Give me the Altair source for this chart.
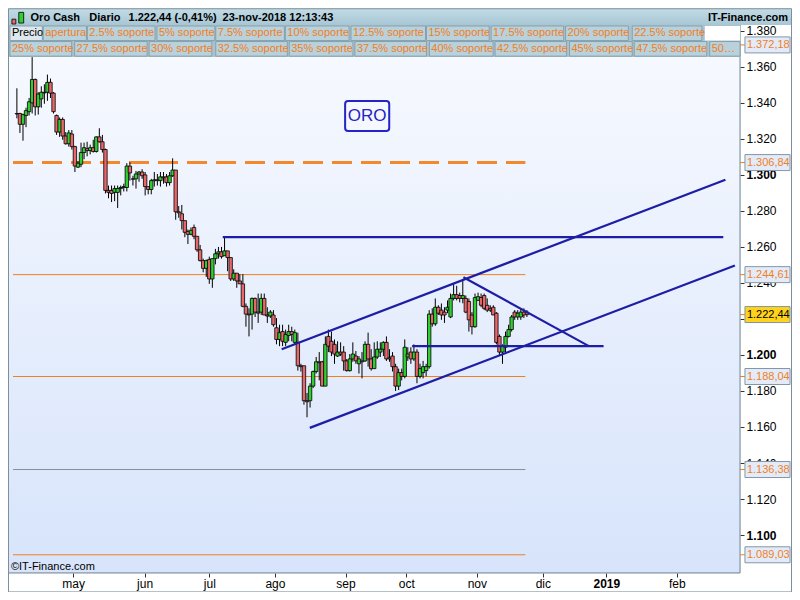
import altair as alt
import pandas as pd

# ---------------- data ----------------
opens = [1.3341,1.3341,1.3281,1.3330,1.3351,1.3400,1.3530,1.3378,1.3422,1.3459,
         1.3459,1.3514,1.3454,1.3330,1.3238,1.3308,1.3216,1.3173,1.3227,1.3157,
         1.3043,1.3059,1.3124,1.3146,1.3135,1.3151,1.3130,1.3211,1.3184,1.3141,
         1.2914,1.2914,1.2903,1.2903,1.2924,1.2930,1.2930,1.3049,1.2978,1.2978,
         1.3005,1.3016,1.3000,1.2935,1.2919,1.2968,1.2973,1.2968,1.2984,1.2989,
         1.2957,1.2995,1.3027,1.2795,1.2784,1.2746,1.2686,1.2670,1.2708,1.2659,
         1.2584,1.2524,1.2481,1.2530,1.2422,1.2535,1.2562,1.2573,1.2551,1.2578,
         1.2541,1.2422,1.2454,1.2411,1.2395,1.2270,1.2227,1.2227,1.2314,1.2238,
         1.2238,1.2314,1.2222,1.2216,1.2222,1.2151,1.2086,1.2130,1.2070,1.2108,
         1.2130,1.2070,1.2070,1.1940,1.1940,1.1746,1.1746,1.1827,1.1908,1.1962,
         1.1962,1.1827,1.2103,1.2076,1.2059,1.1994,1.2016,1.2016,1.1967,1.1913,
         1.1978,1.1994,1.1951,1.1967,1.1967,1.2059,1.1978,1.1924,1.1989,1.2016,
         1.2032,1.2070,1.1978,1.1994,1.1935,1.1827,1.1902,1.1881,1.1989,1.2016,
         1.1978,1.2016,1.1881,1.1902,1.1913,1.1935,1.2227,1.2173,1.2265,1.2249,
         1.2238,1.2249,1.2211,1.2314,1.2335,1.2330,1.2314,1.2314,1.2297,1.2222,
         1.2157,1.2303,1.2319,1.2330,1.2276,1.2259,1.2265,1.2232,1.2103,1.2016,
         1.2043,1.2103,1.2141,1.2238,1.2211,1.2211,1.2238,1.2238]
highs = [1.3481,1.3345,1.3340,1.3373,1.3427,1.3654,1.3535,1.3459,1.3492,1.3503,
         1.3557,1.3535,1.3460,1.3335,1.3319,1.3319,1.3238,1.3249,1.3249,1.3162,
         1.3076,1.3179,1.3179,1.3184,1.3168,1.3195,1.3214,1.3259,1.3222,1.3146,
         1.2941,1.2941,1.2941,1.2941,1.2941,1.2951,1.3065,1.3070,1.2995,1.3022,
         1.3022,1.3032,1.3016,1.2935,1.2978,1.3016,1.3005,1.3016,1.3016,1.3005,
         1.3016,1.3092,1.3027,1.2827,1.2833,1.2746,1.2697,1.2708,1.2724,1.2659,
         1.2611,1.2535,1.2530,1.2546,1.2535,1.2589,1.2600,1.2600,1.2654,1.2578,
         1.2541,1.2476,1.2454,1.2449,1.2449,1.2286,1.2259,1.2319,1.2319,1.2341,
         1.2341,1.2341,1.2265,1.2249,1.2249,1.2205,1.2168,1.2168,1.2141,1.2168,
         1.2157,1.2141,1.2124,1.1951,1.1940,1.1789,1.1843,1.1913,1.1989,1.2016,
         1.1967,1.2103,1.2141,1.2130,1.2086,1.2076,1.2070,1.2049,1.1978,1.2005,
         1.2070,1.2022,1.1994,1.2016,1.2076,1.2124,1.2032,1.2070,1.2076,1.2070,
         1.2076,1.2103,1.2032,1.2016,1.1951,1.1924,1.1924,1.2086,1.2043,1.2043,
         1.2059,1.2032,1.1951,1.1967,1.1951,1.2249,1.2259,1.2314,1.2276,1.2286,
         1.2265,1.2303,1.2341,1.2395,1.2384,1.2346,1.2422,1.2330,1.2314,1.2238,
         1.2341,1.2346,1.2341,1.2341,1.2314,1.2276,1.2276,1.2238,1.2114,1.2059,
         1.2130,1.2168,1.2222,1.2249,1.2249,1.2259,1.2259,1.2249]
lows = [1.3314,1.3233,1.3190,1.3265,1.3330,1.3341,1.3330,1.3335,1.3373,1.3395,
        1.3411,1.3427,1.3341,1.3222,1.3211,1.3195,1.3168,1.3157,1.3141,1.3016,
        1.3038,1.3043,1.3087,1.3103,1.3114,1.3124,1.3124,1.3179,1.3124,1.2897,
        1.2870,1.2849,1.2854,1.2816,1.2886,1.2908,1.2908,1.2968,1.2941,1.2924,
        1.2962,1.2978,1.2886,1.2892,1.2892,1.2935,1.2941,1.2935,1.2951,1.2935,
        1.2941,1.2989,1.2751,1.2762,1.2697,1.2654,1.2616,1.2665,1.2643,1.2573,
        1.2519,1.2459,1.2433,1.2395,1.2373,1.2503,1.2535,1.2535,1.2551,1.2465,
        1.2411,1.2411,1.2373,1.2395,1.2265,1.2157,1.2103,1.2141,1.2211,1.2178,
        1.2222,1.2222,1.2178,1.2205,1.2157,1.2059,1.2049,1.2049,1.2049,1.2076,
        1.2076,1.2059,1.1913,1.1908,1.1724,1.1654,1.1708,1.1816,1.1897,1.1859,
        1.1827,1.1827,1.2016,1.1994,1.1951,1.1989,1.1994,1.1913,1.1908,1.1908,
        1.1962,1.1951,1.1897,1.1870,1.1962,1.1935,1.1913,1.1924,1.1978,1.1989,
        1.1994,1.1967,1.1962,1.1908,1.1800,1.1805,1.1859,1.1870,1.1967,1.1951,
        1.1967,1.1843,1.1870,1.1870,1.1881,1.1924,1.2157,1.2162,1.2222,1.2195,
        1.2178,1.2232,1.2205,1.2303,1.2303,1.2292,1.2287,1.2232,1.2130,1.2114,
        1.2151,1.2303,1.2265,1.2249,1.2238,1.2238,1.2222,1.2059,1.1994,1.1951,
        1.2005,1.2097,1.2130,1.2195,1.2195,1.2195,1.2205,1.2211]
closes = [1.3338,1.3281,1.3335,1.3357,1.3406,1.3530,1.3378,1.3449,1.3459,1.3455,
          1.3514,1.3454,1.3351,1.3238,1.3308,1.3216,1.3173,1.3233,1.3157,1.3049,
          1.3065,1.3124,1.3151,1.3135,1.3151,1.3130,1.3211,1.3184,1.3141,1.2914,
          1.2903,1.2897,1.2924,1.2924,1.2930,1.2935,1.3049,1.3011,1.2976,1.3005,
          1.3016,1.2995,1.2935,1.2919,1.2968,1.2973,1.2968,1.2989,1.2989,1.2957,
          1.2995,1.3027,1.2795,1.2789,1.2746,1.2681,1.2670,1.2692,1.2659,1.2584,
          1.2524,1.2481,1.2524,1.2422,1.2535,1.2562,1.2573,1.2546,1.2578,1.2541,
          1.2422,1.2454,1.2411,1.2395,1.2270,1.2227,1.2222,1.2314,1.2238,1.2232,
          1.2314,1.2222,1.2216,1.2238,1.2168,1.2086,1.2124,1.2076,1.2114,1.2130,
          1.2114,1.2124,1.1940,1.1935,1.1746,1.1740,1.1827,1.1908,1.1962,1.1957,
          1.1827,1.2059,1.2049,1.2016,1.2005,1.2016,1.2005,1.1967,1.1913,1.1978,
          1.2005,1.1967,1.1978,1.1962,1.2059,1.1978,1.1924,1.1989,1.2032,1.2032,
          1.2070,1.1978,1.1984,1.1935,1.1827,1.1902,1.1881,1.2043,1.2005,1.1978,
          1.2016,1.1881,1.1924,1.1935,1.1935,1.2227,1.2173,1.2265,1.2232,1.2222,
          1.2222,1.2265,1.2314,1.2335,1.2314,1.2314,1.2330,1.2238,1.2195,1.2157,
          1.2319,1.2324,1.2276,1.2259,1.2249,1.2249,1.2222,1.2070,1.2016,1.2049,
          1.2103,1.2141,1.2211,1.2211,1.2232,1.2238,1.2222,1.2224]

# month ticks (trading-day index of each month start)
month_idx = [18.4, 41.8, 63.0, 84.5, 107.6, 127.5, 150.6, 172.2, 193.0, 216.1]
month_names = ["may", "jun", "jul", "ago", "sep", "oct", "nov", "dic", "2019", "feb"]

price_ticks = [1.100, 1.120, 1.140, 1.160, 1.180, 1.200, 1.220, 1.240,
               1.260, 1.280, 1.300, 1.320, 1.340, 1.360, 1.380]

# support levels drawn as horizontal lines
level_prices = [1.37218, 1.24461, 1.18804, 1.13638, 1.08903]
level_colors = ["#f07f1e", "#f07f1e", "#f07f1e", "#8a8f96", "#f07f1e"]
dashed_level = 1.30684
level_start = -1.27
level_end = 166.5

# price tags on the right axis
tag_prices = [1.37218, 1.30684, 1.24461, 1.22244, 1.18804, 1.13638, 1.08903]
tag_labels = ["1.372,18", "1.306,84", "1.244,61", "1.222,44", "1.188,04", "1.136,38", "1.089,03"]
tag_current = [False, False, False, True, False, False, False]

# hand-drawn trend lines (bar index, price)
trend_x1 = [67.4, 86.7, 95.9, 146.2, 129.4]
trend_y1 = [1.2654, 1.2032, 1.1595, 1.2432, 1.2049]
trend_x2 = [231.3, 232.0, 235.1, 187.3, 192.1]
trend_y2 = [1.2654, 1.2973, 1.2497, 1.2049, 1.2049]

row1_labels = ["Precio", "apertura", "2.5% soporte", "5% soporte", "7.5% soporte", "10% soporte",
               "12.5% soporte", "15% soporte", "17.5% soporte", "20% soporte", "22.5% soporte"]
row2_labels = ["25% soporte", "27.5% soporte", "30% soporte", "32.5% soporte", "35% soporte",
               "37.5% soporte", "40% soporte", "42.5% soporte", "45% soporte", "47.5% soporte", "50% soporte"]

# ---------------- layout helpers (pixel geometry of the frame) ----------------
SX, SY = 0.98, 0.9733
W = 732
H = 548
PAD = {"left": 0, "top": 17, "right": 52, "bottom": 19}


def px(rx):
    return rx * SX


def py(ry):
    return (ry - 17) * SY


row1_x = [(2, 35), (36, 80), (81, 150), (152, 211), (212, 282), (283, 348),
          (350, 426), (427, 491), (493, 567), (569, 633), (637, 708)]
row2_x = [(2, 65), (68, 142), (144, 208), (212, 285), (287, 352), (354, 427),
          (430, 495), (497, 570), (573, 637), (639, 713), (716, 747)]

FONT = "Liberation Sans"
ORANGE = "#f07f1e"
NAVY = "#1d1da5"
GREEN = "#2fcf2f"
RED = "#e8676b"

xs = alt.Scale(domain=[-1.27, 235.13], nice=False, zero=False)
ys = alt.Scale(domain=[1.07892, 1.38324], nice=False, zero=False)

names_js = "[" + ",".join("'%s'" % m for m in month_names) + "]"
vals_js = "[" + ",".join(str(v) for v in month_idx) + "]"
xaxis = alt.Axis(values=month_idx, labelExpr=f"{names_js}[indexof({vals_js}, datum.value)]",
                 title=None, grid=False, domain=False, tickSize=4, tickColor="#333333",
                 labelFont=FONT, labelFontSize=12, labelColor="#000000", labelPadding=1,
                 labelOverlap=False, labelFlush=False,
                 labelFontWeight={"expr": f"datum.value == {month_idx[8]} ? 'bold' : 'normal'"})
yaxis = alt.Axis(orient="right", values=price_ticks, format=".3f", title=None, grid=False,
                 domain=False, tickSize=4, tickColor="#333333", labelPadding=2,
                 labelFont=FONT, labelFontSize=12, labelColor="#000000", labelOverlap=False,
                 labelFlush=False,
                 labelFontWeight={"expr": "abs(datum.value*10 - round(datum.value*10)) < 0.0001 ? 'bold' : 'normal'"})

dummy = pd.DataFrame({"k": [0]})


def vrect(x1, x2, y1, y2, **mk):
    return alt.Chart(dummy).mark_rect(**mk).encode(
        x=alt.value(px(x1)), x2=alt.value(px(x2)), y=alt.value(py(y1)), y2=alt.value(py(y2)))


def vtext(txt, x, y, **mk):
    return alt.Chart(dummy).mark_text(**mk).encode(
        x=alt.value(px(x)), y=alt.value(py(y)), text=alt.value(txt))


layers = []

# plot background gradient
layers.append(vrect(0, 747, 17, 580, fill=alt.LinearGradient(
    gradient="linear", x1=0, x2=0, y1=0, y2=1,
    stops=[alt.GradientStop(color="#f8faff", offset=0),
           alt.GradientStop(color="#d7e4fb", offset=1)])))

# candle table
n = len(closes)
candles = pd.DataFrame({"i": list(range(n)), "open": opens, "high": highs,
                        "low": lows, "close": closes})
candles["dir"] = ["up" if c >= o else "down" for o, c in zip(opens, closes)]

# horizontal levels
lv = pd.DataFrame({"price": level_prices, "col": level_colors,
                   "xs": [level_start] * len(level_prices), "xe": [level_end] * len(level_prices)})
layers.append(alt.Chart(lv).mark_rule(strokeWidth=1).encode(
    x=alt.X("xs:Q", scale=xs, axis=xaxis), x2="xe:Q",
    y=alt.Y("price:Q", scale=ys, axis=yaxis),
    color=alt.Color("col:N", scale=None)))

dl = pd.DataFrame({"price": [dashed_level], "xs": [level_start], "xe": [level_end]})
layers.append(alt.Chart(dl).mark_rule(strokeWidth=3, strokeDash=[20, 9], color="#f3892c").encode(
    x=alt.X("xs:Q", scale=xs, axis=xaxis), x2="xe:Q",
    y=alt.Y("price:Q", scale=ys, axis=yaxis)))

# candles
layers.append(alt.Chart(candles).mark_rule(color="black", strokeWidth=1).encode(
    x=alt.X("i:Q", scale=xs, axis=xaxis),
    y=alt.Y("low:Q", scale=ys, axis=yaxis), y2="high:Q"))
layers.append(alt.Chart(candles).mark_bar(size=3.4, stroke="black", strokeWidth=0.8).encode(
    x=alt.X("i:Q", scale=xs, axis=xaxis),
    y=alt.Y("open:Q", scale=ys, axis=yaxis), y2="close:Q",
    color=alt.Color("dir:N", scale=alt.Scale(domain=["up", "down"], range=[GREEN, RED]), legend=None)))

# trend lines
tl = pd.DataFrame({"x1": trend_x1, "y1": trend_y1, "x2": trend_x2, "y2": trend_y2})
layers.append(alt.Chart(tl).mark_rule(color=NAVY, strokeWidth=2.2).encode(
    x=alt.X("x1:Q", scale=xs, axis=xaxis), x2="x2:Q",
    y=alt.Y("y1:Q", scale=ys, axis=yaxis), y2="y2:Q"))

# ORO label
layers.append(vrect(344, 389, 95, 126, fill="#f6f8ff", stroke="#2323c8", strokeWidth=2, cornerRadius=3))
layers.append(vtext("ORO", 366.5, 111, font=FONT, fontSize=17, color="#2323c8",
                    align="center", baseline="middle"))

# copyright
layers.append(vtext("©IT-Finance.com", 3, 574, font=FONT, fontSize=11, color="#000000",
                    align="left", baseline="middle"))

# plot frame
layers.append(vrect(0.5, 747, 17, 580, fill="transparent", stroke="#6c8190", strokeWidth=1))

# title bar
layers.append(vrect(0, 800, 0, 17, fill=alt.LinearGradient(
    gradient="linear", x1=0, x2=0, y1=0, y2=1,
    stops=[alt.GradientStop(color="#c3dce6", offset=0),
           alt.GradientStop(color="#a7c6d4", offset=1)])))
layers.append(vrect(4, 8, 11, 16, fill="#e8676b", stroke="black", strokeWidth=0.8))
layers.append(vrect(11, 16, 4, 15, fill="#2fcf2f", stroke="black", strokeWidth=0.8))
for txt, x0 in [("Oro Cash", 23), ("Diario", 83), ("1.222,44 (-0,41%)", 123), ("23-nov-2018 12:13:43", 219)]:
    layers.append(vtext(txt, x0, 9.5, font=FONT, fontSize=11, fontWeight="bold", color="#000000",
                        align="left", baseline="middle"))
layers.append(vtext("IT-Finance.com", 796, 9.5, font=FONT, fontSize=11, fontWeight="bold",
                    color="#000000", align="right", baseline="middle"))

# legend rows
layers.append(vrect(0, 747, 17, 50, fill="#a9c2ce"))
layers.append(vrect(711, 747, 18, 33, fill="#ffffff"))
for k, (lab, (a, b)) in enumerate(zip(row1_labels, row1_x)):
    first = k == 0
    layers.append(vrect(a, b, 18, 33, fill="#dce8ee" if first else "#b9d1db", stroke="#86a1ae", strokeWidth=1))
    layers.append(vtext(lab, a + 2, 25.5, font=FONT, fontSize=11, color="#000000" if first else ORANGE,
                        align="left", baseline="middle"))
for k, (lab, (a, b)) in enumerate(zip(row2_labels, row2_x)):
    layers.append(vrect(a, b, 34, 49, fill="#b9d1db", stroke="#86a1ae", strokeWidth=1))
    last = k == len(row2_labels) - 1
    extra = {"limit": px(b - a - 2), "ellipsis": ""} if last else {}
    layers.append(alt.Chart(dummy).mark_text(font=FONT, fontSize=11, color=ORANGE, align="left",
                                             baseline="middle", **extra).encode(
        x=alt.value(px(a + 2)), y=alt.value(py(41.5)), text=alt.value(lab)))

# price tags on the right axis
tg = pd.DataFrame({"price": tag_prices, "label": tag_labels, "cur": tag_current})
base_tag = alt.Chart(tg)
layers.append(base_tag.mark_rule(color=ORANGE, strokeWidth=1).encode(
    x=alt.value(px(747)), x2=alt.value(px(752)), y=alt.Y("price:Q", scale=ys, axis=yaxis)))
layers.append(base_tag.mark_rect(yOffset=-8, y2Offset=8, stroke="#8497a8", strokeWidth=1).encode(
    x=alt.value(px(752)), x2=alt.value(px(798)),
    y=alt.Y("price:Q", scale=ys, axis=yaxis), y2="price:Q",
    fill=alt.condition("datum.cur", alt.value("#ffd21c"), alt.value("#e3ebf8"))))
layers.append(base_tag.mark_text(font=FONT, fontSize=11, align="left", baseline="middle").encode(
    x=alt.value(px(754)), y=alt.Y("price:Q", scale=ys, axis=yaxis), text="label:N",
    color=alt.condition("datum.cur", alt.value("#000000"), alt.value(ORANGE))))

# outer border
layers.append(vrect(0.5, 799.5, 0.3, 599.5, fill="transparent", stroke="#7d8f9b", strokeWidth=1))

chart = alt.layer(*layers).properties(
    width=W, height=H, padding=PAD,
    autosize=alt.AutoSizeParams(type="none"),
    background="#ffffff",
).configure_view(stroke=None)

chart.save("out.html", embed_options={"renderer": "svg", "actions": False})
